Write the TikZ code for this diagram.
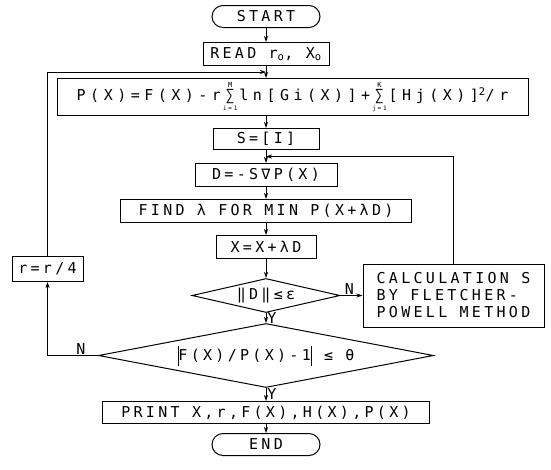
\documentclass[tikz,border=0pt]{standalone}
\usepackage{fontspec}
\setmainfont{DejaVu Sans Mono}[LetterSpace=22]
\newfontfamily\widefont{DejaVu Sans Mono}[LetterSpace=30]
\usetikzlibrary{arrows.meta,positioning,shapes.geometric}

% summation sign with limits above and below, in the text font
\newcommand\sumto[2]{\hspace{2pt}$\mathop{\hbox{∑}}\limits_{\hbox{\fontsize{6}{6}\selectfont #1}}^{\hbox{\fontsize{7}{7}\selectfont #2}}$\hspace{2pt}}
\newcommand\tallbar{\rule[-5pt]{0.9pt}{20pt}}

\begin{document}
\begin{tikzpicture}[
    every node/.style={font=\fontsize{15}{17}\selectfont},
    proc/.style={draw, line width=1pt, minimum height=23pt, inner sep=2pt},
    term/.style={draw, line width=1pt, rounded corners=11pt, minimum width=108pt, minimum height=22pt},
    cond/.style={draw, diamond, line width=1pt, inner sep=0pt},
    lbl/.style={inner sep=1pt},
    arr/.style={-{Stealth[length=6pt, width=4pt]}, line width=0.8pt},
  ]
  \useasboundingbox (0,0) rectangle (551pt,-469pt);

  \node[term] (start) at (266pt,-16.5pt) {START};
  \node[proc, minimum width=126pt, below=14pt of start] (read) {READ r\textsubscript{o}, X\textsubscript{o}};
  \node[proc, minimum width=471pt, minimum height=37pt, below=12pt of read, xshift=26.5pt] (pfun)
    {\widefont P(X)=F(X)-r\sumto{i=1}{M}ln[Gi(X)]+\sumto{j=1}{K}[Hj(X)]\textsuperscript{2}/r};
  \node[proc, minimum width=106pt, minimum height=21pt, below=12pt of pfun, xshift=-26.5pt] (sinit) {S=[I]};
  \node[proc, minimum width=142pt, below=13pt of sinit] (dirn) {D=-S∇P(X)};
  \node[proc, minimum width=291pt, below=12pt of dirn] (lsrch) {FIND λ FOR MIN P(X+λD)};
  \node[proc, minimum width=100pt, below=12pt of lsrch] (xnew) {X=X+λD};

  \node[cond, aspect=4.35, minimum width=148pt, minimum height=34pt, below=19pt of xnew] (dtest) {‖D‖≤ε};
  \node[cond, aspect=5.2, minimum width=335pt, minimum height=64pt, below=10pt of dtest] (ftest)
    {\tallbar F(X)/P(X)-1\tallbar\ ≤ θ};

  \node[proc, minimum width=327pt, minimum height=22pt, below=13pt of ftest] (prnt) {PRINT X,r,F(X),H(X),P(X)};
  \node[term, below=9pt of prnt] (stop) {END};

  \node[proc, minimum width=71pt, minimum height=25pt] (rupd) at (47.5pt,-269pt) {r=r/4};
  \node[proc, align=left, minimum width=181pt, minimum height=63pt, right=22pt of dtest] (fpupd)
    {CALCULATION S\\BY FLETCHER-\\POWELL METHOD};

  \coordinate[below=6pt of read] (rjoin);
  \coordinate[below=6.5pt of sinit] (sjoin);

  \draw[arr] (start) -- (read);
  \draw[arr] (read) -- (read |- pfun.north);
  \draw[arr] (sinit |- pfun.south) -- (sinit);
  \draw[arr] (sinit) -- (dirn);
  \draw[arr] (dirn) -- (lsrch);
  \draw[arr] (lsrch) -- (xnew);
  \draw[arr] (xnew) -- (dtest);
  \draw[arr] (dtest) -- node[lbl, right] {Y} (ftest);
  \draw[arr] (ftest) -- node[lbl, right] {Y} (prnt);
  \draw[arr] (prnt) -- (stop);

  \draw[arr] (dtest) -- node[lbl, above, pos=0.4] {N} (fpupd);
  \draw[arr] (fpupd.north) |- (sjoin);
  \draw[arr] (ftest.west) -| node[lbl, above, pos=0.17] {N} (rupd.south);
  \draw[arr] (rupd.north) |- (rjoin);
\end{tikzpicture}
\end{document}
